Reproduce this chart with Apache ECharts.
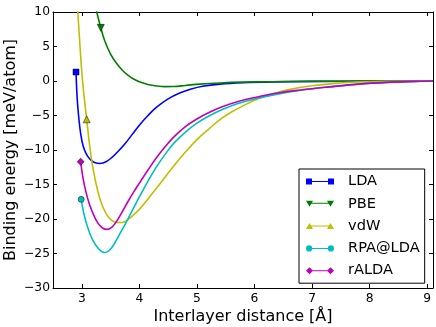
<!DOCTYPE html>
<html>
<head>
<meta charset="utf-8">
<script src="https://cdn.jsdelivr.net/npm/echarts@6/dist/echarts.min.js"></script>
<style>
  html, body { margin: 0; padding: 0; background: #fff; }
  #chart { width: 436px; height: 327px; }
</style>
</head>
<body>
<div id="chart"></div>
<script>
// values, [distance (Å), energy (meV/atom)]
const ldaData = [[2.9, 1.3], [2.92, -2.5], [2.95, -5.5], [2.98, -7.6], [3.02, -9.3], [3.08, -10.6], [3.15, -11.4], [3.22, -11.8], [3.32, -11.95], [3.42, -11.7], [3.52, -11.1], [3.62, -10.3], [3.75, -9.1], [3.88, -7.7], [4.0, -6.4], [4.15, -5.0], [4.3, -3.8], [4.5, -2.6], [4.7, -1.75], [4.9, -1.15], [5.1, -0.75], [5.4, -0.45], [5.8, -0.25], [6.3, -0.13], [7, -0.06], [8, -0.02], [9.1, 0]]
const pbeData = [[3.2, 12.3], [3.26, 10], [3.33, 7.7], [3.4, 5.8], [3.5, 3.9], [3.6, 2.6], [3.7, 1.6], [3.8, 0.85], [3.9, 0.3], [4.0, -0.1], [4.15, -0.5], [4.3, -0.72], [4.45, -0.82], [4.6, -0.8], [4.8, -0.65], [5.05, -0.45], [5.4, -0.28], [5.8, -0.17], [6.3, -0.1], [7, -0.05], [8, -0.02], [9.1, 0]]
const vdwData = [[2.88, 15], [2.93, 10], [2.97, 4.9], [3.005, 0.8], [3.045, -2.6], [3.085, -5.55], [3.13, -8.9], [3.18, -11.9], [3.24, -14.6], [3.32, -17.2], [3.42, -19.2], [3.52, -20.2], [3.62, -20.5], [3.7, -20.5], [3.8, -20.1], [3.9, -19.4], [4.0, -18.6], [4.15, -17.1], [4.3, -15.5], [4.45, -13.9], [4.6, -12.3], [4.8, -10.3], [5.0, -8.5], [5.2, -7.0], [5.4, -5.6], [5.6, -4.5], [5.8, -3.6], [6.05, -2.6], [6.3, -1.9], [6.6, -1.25], [7.0, -0.7], [7.4, -0.35], [7.8, -0.15], [8.3, -0.05], [9.1, 0]]
const rpaData = [[2.99, -17.15], [3.03, -19.0], [3.08, -20.6], [3.14, -22.1], [3.2, -23.2], [3.27, -24.1], [3.34, -24.7], [3.4, -24.85], [3.47, -24.6], [3.55, -23.8], [3.65, -22.3], [3.75, -20.8], [3.85, -19.2], [4.0, -16.8], [4.15, -14.5], [4.3, -12.4], [4.45, -10.6], [4.6, -9.0], [4.8, -7.4], [5.0, -6.1], [5.2, -5.1], [5.45, -4.1], [5.7, -3.3], [6.0, -2.6], [6.4, -1.9], [6.8, -1.35], [7.3, -0.85], [7.8, -0.45], [8.3, -0.2], [8.8, -0.06], [9.1, 0]]
const raldaData = [[2.98, -11.7], [3.02, -14.0], [3.07, -16.0], [3.13, -17.8], [3.2, -19.3], [3.28, -20.6], [3.36, -21.3], [3.44, -21.5], [3.52, -21.2], [3.6, -20.4], [3.7, -19.0], [3.8, -17.5], [3.9, -16.1], [4.0, -14.8], [4.15, -12.9], [4.3, -11.1], [4.45, -9.5], [4.6, -8.1], [4.8, -6.6], [5.0, -5.5], [5.2, -4.6], [5.45, -3.7], [5.7, -3.0], [6.0, -2.4], [6.4, -1.75], [6.8, -1.3], [7.3, -0.85], [7.8, -0.45], [8.3, -0.2], [8.8, -0.06], [9.1, 0]]
// where each curve carries its marker
const ldaMark = [2.9, 1.3]
const pbeMark = [3.33, 7.7]
const vdwMark = [3.085, -5.55]
const rpaMark = [2.99, -17.15]
const raldaMark = [2.98, -11.7]
const xTicks = [3, 4, 5, 6, 7, 8, 9]
const seriesNames = ['LDA', 'PBE', 'vdW', 'RPA@LDA', 'rALDA']

const FONT = 'DejaVu Sans'
const colors = ['#0000ff', '#008000', '#bfbf00', '#00bfbf', '#bf00bf']
const icons = [
  'path://M0,1H6V7H0Z M6,3.5H22V4.5H6Z M22,1H28V7H22Z',
  'path://M0,1.5H7L3.5,7.5Z M5,3.5H23V4.5H5Z M21,1.5H28L24.5,7.5Z',
  'path://M3.5,1L7,7H0Z M5,3.5H23V4.5H5Z M24.5,1L28,7H21Z',
  'path://M0.5,4A3,3 0 1,1 6.5,4A3,3 0 1,1 0.5,4Z M6,3.5H22V4.5H6Z M21.5,4A3,3 0 1,1 27.5,4A3,3 0 1,1 21.5,4Z',
  'path://M3.5,0.5L7,4L3.5,7.5L0,4Z M6.5,3.5H21.5V4.5H6.5Z M24.5,0.5L28,4L24.5,7.5L21,4Z'
]

function makeLine (name, data, color, mark, symbol, size, rotate) {
  return {
    name: name,
    type: 'line',
    data: data,
    color: color,
    showSymbol: false,
    smooth: 0.4,
    clip: true,
    lineStyle: { width: 1.6, color: color },
    markPoint: {
      silent: true,
      animation: false,
      label: { show: false },
      data: [{
        coord: mark,
        symbol: symbol,
        symbolSize: size,
        symbolRotate: rotate,
        itemStyle: { color: color, borderColor: '#000', borderWidth: 0.5 }
      }]
    }
  }
}

const mychart = echarts.init(document.getElementById('chart'))
const option = {
  animation: false,
  backgroundColor: '#fff',
  grid: { left: 53, right: 3, top: 12, bottom: 39, outerBoundsMode: 'none' },
  legend: {
    orient: 'vertical',
    left: 299,
    top: 169,
    itemWidth: 28,
    itemHeight: 8,
    itemGap: 7.3,
    padding: [5, 5, 5, 7],
    borderColor: '#000',
    borderWidth: 1,
    borderRadius: 0,
    backgroundColor: '#fff',
    textStyle: { fontFamily: FONT, fontSize: 14.6, color: '#000', padding: [0, 0, 0, 9] },
    data: seriesNames.map((n, i) => ({
      name: n,
      icon: icons[i],
      itemStyle: { color: colors[i], borderWidth: 0 }
    }))
  },
  xAxis: [{
    type: 'value',
    min: 2.5,
    max: 9.1,
    name: 'Interlayer distance [Å]',
    nameLocation: 'middle',
    nameGap: 21,
    nameMoveOverlap: false,
    nameTextStyle: { fontFamily: FONT, fontSize: 16, color: '#000', verticalAlign: 'top' },
    axisLine: { onZero: false, lineStyle: { color: '#000', width: 1 } },
    axisTick: { inside: true, length: 4, customValues: xTicks, lineStyle: { color: '#000' } },
    axisLabel: { customValues: xTicks, fontFamily: FONT, fontSize: 12.3, color: '#000', margin: 5 },
    splitLine: { show: false }
  }, {
    type: 'value',
    position: 'top',
    min: 2.5,
    max: 9.1,
    axisLine: { show: true, onZero: false, lineStyle: { color: '#000', width: 1 } },
    axisTick: { inside: true, length: 4, customValues: xTicks, lineStyle: { color: '#000' } },
    axisLabel: { show: false },
    splitLine: { show: false }
  }],
  yAxis: [{
    type: 'value',
    min: -30,
    max: 10,
    interval: 5,
    name: 'Binding energy [meV/atom]',
    nameLocation: 'middle',
    nameGap: 34,
    nameMoveOverlap: false,
    nameTextStyle: { fontFamily: FONT, fontSize: 16, color: '#000' },
    axisLine: { show: true, onZero: false, lineStyle: { color: '#000', width: 1 } },
    axisTick: { show: true, inside: true, length: 4, lineStyle: { color: '#000' } },
    axisLabel: {
      fontFamily: FONT,
      fontSize: 12.3,
      color: '#000',
      margin: 3,
      formatter: v => String(v).replace('-', '\u2212')
    },
    splitLine: { show: false }
  }, {
    type: 'value',
    position: 'right',
    min: -30,
    max: 10,
    interval: 5,
    axisLine: { show: true, onZero: false, lineStyle: { color: '#000', width: 1 } },
    axisTick: { show: true, inside: true, length: 4, lineStyle: { color: '#000' } },
    axisLabel: { show: false },
    splitLine: { show: false }
  }],
  series: [
    makeLine('LDA', ldaData, colors[0], ldaMark, 'rect', 6, 0),
    makeLine('PBE', pbeData, colors[1], pbeMark, 'triangle', 7, 180),
    makeLine('vdW', vdwData, colors[2], vdwMark, 'triangle', 7, 0),
    makeLine('RPA@LDA', rpaData, colors[3], rpaMark, 'circle', 6, 0),
    makeLine('rALDA', raldaData, colors[4], raldaMark, 'rect', 5, 45)
  ]
}
mychart.setOption(option)
window.addEventListener('resize', function () {
  mychart.resize()
})
</script>
</body>
</html>
